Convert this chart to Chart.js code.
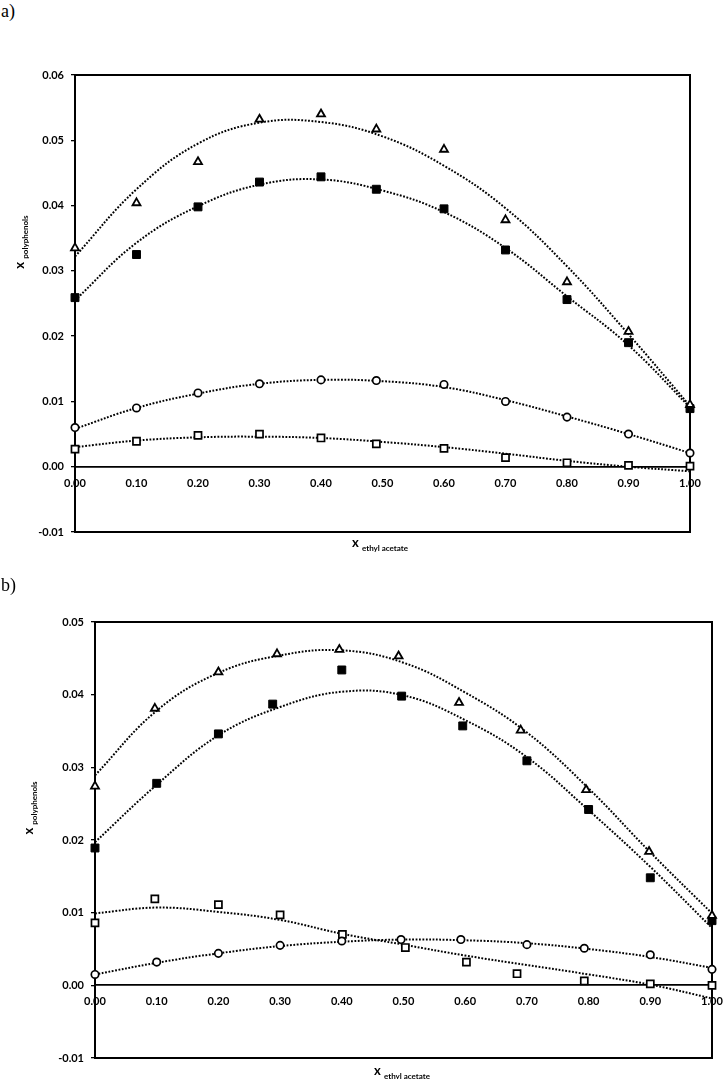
<!DOCTYPE html>
<html>
<head>
  <title>x polyphenols vs x ethyl acetate</title>
  <script src="https://cdn.jsdelivr.net/npm/chart.js"></script>
  <style>
    body { margin: 0; background: #fff; }
    #page { position: relative; width: 723px; height: 1079px; font-family: Lato, sans-serif; color: #000; }
    .panel { position: absolute; left: 0; }
    .tag { position: absolute; left: 1px; font-family: 'Liberation Serif', serif; font-size: 18px; line-height: 18px; }
    .xtitle { position: absolute; font-weight: bold; font-size: 13px; line-height: 14px; white-space: nowrap; }
    .xtitle sub, .ytitle sub { font-size: 8px; }
    .ytitle { position: absolute; width: 80px; height: 16px; line-height: 16px; text-align: center;
              font-weight: bold; font-size: 13px; white-space: nowrap; transform: rotate(-90deg); }
  </style>
</head>
<body>
<div id="page">
  <div class="tag" style="top: 2px;">a)</div>
  <canvas id="chartA" class="panel" style="top: 0;" width="723" height="560"></canvas>
  <div class="ytitle" style="left: -21px; top: 234px;">x <sub>polyphenols</sub></div>
  <div class="xtitle" style="left: 352px; top: 535px;">x <sub>ethyl acetate</sub></div>

  <div class="tag" style="top: 576px;">b)</div>
  <canvas id="chartB" class="panel" style="top: 560px;" width="723" height="519"></canvas>
  <div class="ytitle" style="left: -12px; top: 800px;">x <sub>polyphenols</sub></div>
  <div class="xtitle" style="left: 374px; top: 1063px;">x <sub>ethyl acetate</sub></div>
</div>

<script>
  // axis ticks
  const xTicks = [0, 0.1, 0.2, 0.3, 0.4, 0.5, 0.6, 0.7, 0.8, 0.9, 1.0];
  const yTicksA = [-0.01, 0, 0.01, 0.02, 0.03, 0.04, 0.05, 0.06];
  const yTicksB = [-0.01, 0, 0.01, 0.02, 0.03, 0.04, 0.05];

  // panel a) measured points
  const xA = [0, 0.1, 0.2, 0.3, 0.4, 0.49, 0.6, 0.7, 0.8, 0.9, 1.0];
  const triA = [0.0335, 0.0404, 0.0467, 0.0532, 0.0540, 0.0517, 0.0486, 0.0378, 0.0283, 0.0207, 0.0095];
  const sqFillA = [0.0259, 0.0325, 0.0398, 0.0436, 0.0444, 0.0425, 0.0395, 0.0332, 0.0256, 0.0190, 0.0089];
  const circA = [0.0060, 0.0090, 0.0113, 0.0127, 0.0133, 0.0132, 0.0126, 0.0100, 0.0076, 0.0050, 0.0021];
  const sqOpenA = [0.0027, 0.0039, 0.0048, 0.0050, 0.0044, 0.0035, 0.0028, 0.0014, 0.0006, 0.0002, 0.0001];

  // panel a) dotted trend lines
  const fitX = [0, 0.1, 0.2, 0.3, 0.4, 0.5, 0.6, 0.7, 0.8, 0.9, 1.0];
  const triFitA = [0.0322, 0.0425, 0.0495, 0.0527, 0.0528, 0.0506, 0.0461, 0.0396, 0.0307, 0.0203, 0.0093];
  const sqFillFitA = [0.0255, 0.0343, 0.0399, 0.0432, 0.0440, 0.0423, 0.0390, 0.0335, 0.0261, 0.0186, 0.0091];
  const circFitA = [0.0058, 0.0090, 0.0112, 0.0127, 0.0133, 0.0131, 0.0122, 0.0102, 0.0077, 0.0050, 0.0021];
  const sqOpenFitA = [0.0030, 0.0040, 0.0045, 0.0046, 0.0044, 0.0038, 0.0030, 0.0020, 0.0009, 0.0000, -0.0007];

  // panel b) measured points
  const xTriB = [0, 0.097, 0.2, 0.295, 0.396, 0.492, 0.59, 0.69, 0.796, 0.898, 1.0];
  const triB = [0.0274, 0.0381, 0.0431, 0.0456, 0.0462, 0.0453, 0.0389, 0.0351, 0.0269, 0.0184, 0.0096];
  const xSqFillB = [0, 0.1, 0.2, 0.288, 0.4, 0.497, 0.596, 0.7, 0.8, 0.9, 1.0];
  const sqFillB = [0.0189, 0.0278, 0.0346, 0.0387, 0.0434, 0.0398, 0.0357, 0.0309, 0.0242, 0.0148, 0.0089];
  const xCircB = [0, 0.1, 0.2, 0.3, 0.4, 0.496, 0.593, 0.7, 0.793, 0.9, 1.0];
  const circB = [0.0015, 0.0032, 0.0044, 0.0055, 0.0061, 0.0063, 0.0063, 0.0056, 0.0051, 0.0042, 0.0022];
  const xSqOpenB = [0, 0.097, 0.2, 0.3, 0.401, 0.503, 0.602, 0.684, 0.793, 0.9, 1.0];
  const sqOpenB = [0.0086, 0.0119, 0.0111, 0.0097, 0.0070, 0.0052, 0.0032, 0.0016, 0.0006, 0.0002, 0.0000];

  // panel b) dotted trend lines
  const triFitB = [0.0289, 0.0378, 0.0430, 0.0454, 0.0461, 0.0444, 0.0403, 0.0348, 0.0271, 0.0183, 0.0099];
  const sqFillFitB = [0.0197, 0.0276, 0.0344, 0.0383, 0.0404, 0.0399, 0.0365, 0.0314, 0.0241, 0.0163, 0.0079];
  const circFitB = [0.0015, 0.0031, 0.0044, 0.0054, 0.0060, 0.0063, 0.0062, 0.0058, 0.0050, 0.0039, 0.0024];
  const sqOpenFitB = [0.0099, 0.0107, 0.0101, 0.0090, 0.0071, 0.0056, 0.0041, 0.0028, 0.0015, 0.0001, -0.0018];

  function pts(xs, ys) {
    return xs.map((x, i) => ({ x: x, y: ys[i] }));
  }

  const markers = {
    tri: { pointStyle: 'triangle', pointRadius: 4.6, pointBackgroundColor: '#fff', pointBorderColor: '#000', pointBorderWidth: 1.8 },
    sqFill: { pointStyle: 'rect', pointRadius: 5.6, pointBackgroundColor: '#000', pointBorderColor: '#000', pointBorderWidth: 1 },
    circ: { pointStyle: 'circle', pointRadius: 3.7, pointBackgroundColor: '#fff', pointBorderColor: '#000', pointBorderWidth: 1.7 },
    sqOpen: { pointStyle: 'rect', pointRadius: 5, pointBackgroundColor: '#fff', pointBorderColor: '#000', pointBorderWidth: 1.7 }
  };

  // markers on the frame must not be cut in half
  function pointSet(data, style) {
    return Object.assign({ data: data, showLine: false, order: 1, clip: false }, markers[style]);
  }

  function fitSet(data) {
    return {
      data: data, showLine: true, pointRadius: 0, borderColor: '#000', borderWidth: 2,
      borderDash: [1.8, 1.6], tension: 0.4, fill: false, order: 2
    };
  }

  // box round the plot area, drawn under the markers
  const framePlugin = {
    id: 'frame',
    beforeDatasetsDraw(chart) {
      const a = chart.chartArea;
      const ctx = chart.ctx;
      ctx.save();
      ctx.strokeStyle = '#000';
      ctx.lineWidth = 2;
      ctx.strokeRect(a.left, a.top, a.right - a.left, a.bottom - a.top);
      ctx.restore();
    }
  };

  const tickFont = { family: 'Lato', weight: 'bold', size: 11 };

  function makeChart(id, datasets, yTicks, yMax, pad, yWidth) {
    const ctx = document.getElementById(id).getContext('2d');
    return new Chart(ctx, {
      type: 'scatter',
      data: { datasets: datasets },
      options: {
        responsive: false,
        animation: false,
        layout: { padding: pad },
        plugins: { legend: { display: false }, tooltip: { enabled: false } },
        scales: {
          x: {
            type: 'linear', min: 0, max: 1, position: { y: 0 },
            afterBuildTicks: s => { s.ticks = xTicks.map(v => ({ value: v })); },
            afterFit: s => { s.paddingLeft = 0; s.paddingRight = 0; },
            grid: { display: false, drawTicks: false, tickLength: 0 },
            border: { display: true, color: '#000', width: 1.8 },
            ticks: { color: '#000', font: tickFont, padding: 10, maxRotation: 0, callback: v => v.toFixed(2) }
          },
          y: {
            type: 'linear', min: -0.01, max: yMax, position: 'left',
            afterBuildTicks: s => { s.ticks = yTicks.map(v => ({ value: v })); },
            afterFit: s => { s.width = yWidth; },
            grid: { drawOnChartArea: false, drawTicks: true, tickLength: 4, color: '#000', lineWidth: 1.3 },
            border: { display: true, color: '#000', width: 2 },
            ticks: { color: '#000', font: tickFont, padding: 7, callback: v => v.toFixed(2) }
          }
        }
      },
      plugins: [framePlugin]
    });
  }

  makeChart('chartA', [
    pointSet(pts(xA, triA), 'tri'),
    pointSet(pts(xA, sqFillA), 'sqFill'),
    pointSet(pts(xA, circA), 'circ'),
    pointSet(pts(xA, sqOpenA), 'sqOpen'),
    fitSet(pts(fitX, triFitA)),
    fitSet(pts(fitX, sqFillFitA)),
    fitSet(pts(fitX, circFitA)),
    fitSet(pts(fitX, sqOpenFitA))
  ], yTicksA, 0.06, { left: 0, top: 75, right: 33, bottom: 28 }, 75);

  makeChart('chartB', [
    pointSet(pts(xTriB, triB), 'tri'),
    pointSet(pts(xSqFillB, sqFillB), 'sqFill'),
    pointSet(pts(xCircB, circB), 'circ'),
    pointSet(pts(xSqOpenB, sqOpenB), 'sqOpen'),
    fitSet(pts(fitX, triFitB)),
    fitSet(pts(fitX, sqFillFitB)),
    fitSet(pts(fitX, circFitB)),
    fitSet(pts(fitX, sqOpenFitB))
  ], yTicksB, 0.05, { left: 0, top: 62, right: 11, bottom: 21 }, 95);
</script>
</body>
</html>
